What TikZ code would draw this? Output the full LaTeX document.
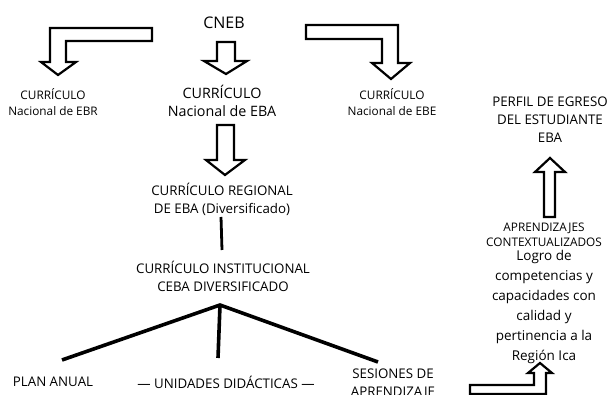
\documentclass[tikz,border=0pt]{standalone}
\usepackage{fontspec}
\setmainfont{Open Sans}

\begin{document}
\begin{tikzpicture}[x=1pt, y=-1pt,
	txt/.style = {align=center, inner sep=0pt, font=\fontsize{13.3}{18}\selectfont},
	small/.style = {txt, font=\fontsize{11.8}{15.5}\selectfont},
	fat/.style = {draw, fill=white, line width=2.2pt, line join=miter},
	branch/.style = {line width=3.6pt}]
	\useasboundingbox (0,0) rectangle (608,395);
	% text blocks
	\node[txt, font=\fontsize{16}{18}\selectfont] (cneb) at (224,23) {CNEB};
	\node[small] (ebr) at (53,102) {CURRÍCULO\\Nacional de EBR};
	\node[txt, font=\fontsize{14.3}{17.5}\selectfont] (eba) at (222,101) {CURRÍCULO\\Nacional de EBA};
	\node[small] (ebe) at (392,102) {CURRÍCULO\\Nacional de EBE};
	\node[txt] (perfil) at (550,120) {PERFIL DE EGRESO\\DEL ESTUDIANTE\\EBA};
	\node[txt] (regional) at (222,199) {CURRÍCULO REGIONAL\\DE EBA (Diversificado)};
	\node[txt] (institucional) at (223,276) {CURRÍCULO INSTITUCIONAL\\CEBA DIVERSIFICADO};
	\node[txt] (plan) at (53,382) {PLAN ANUAL};
	\node[txt] (unidades) at (226,382) {— UNIDADES DIDÁCTICAS —};
	\node[txt, anchor=north] (sesiones) at (393,369) {SESIONES DE\\APRENDIZAJE};
	\node[small] (aprend) at (544,235) {APRENDIZAJES\\CONTEXTUALIZADOS};
	\node[txt, font=\fontsize{13.5}{20}\selectfont, anchor=north] (logro) at (544,250)
		{Logro de\\competencias y\\capacidades con\\calidad y\\pertinencia a la\\Región Ica};
	% fat arrows
	\draw[fat] (152,28) -- (50,28) -- (50,62) -- (41,62) -- (58,75) -- (76,62) -- (66,62) -- (66,41) -- (152,41) -- cycle;
	\draw[fat] (306,25) -- (398,25) -- (398,63) -- (410,63) -- (391,79) -- (372,63) -- (382,63) -- (382,39) -- (306,39) -- cycle;
	\draw[fat] (217,42) -- (235,42) -- (235,61) -- (247,61) -- (226,74) -- (204,61) -- (217,61) -- cycle;
	\draw[fat] (217,125) -- (234,125) -- (234,160) -- (245,160) -- (225,175) -- (206,160) -- (217,160) -- cycle;
	\draw[fat] (544,217) -- (555,217) -- (555,172) -- (565,172) -- (550,158) -- (535,172) -- (544,172) -- cycle;
	\draw[fat] (470,385) -- (534,385) -- (534,373) -- (528,373) -- (540,363) -- (552,373) -- (546,373) -- (546,394) -- (470,394) -- cycle;
	% tree
	\coordinate (top) at (221,217);
	\coordinate (bot) at (222,250);
	\draw[line width=2.8pt] (top) -- (bot);
	\coordinate (apex) at (220,305);
	\coordinate (toplan) at (62,360);
	\coordinate (tounid) at (218,358);
	\coordinate (toses) at (378,362);
	\draw[branch] (toplan) -- (apex) -- (toses) (apex) -- (tounid);
\end{tikzpicture}
\end{document}
